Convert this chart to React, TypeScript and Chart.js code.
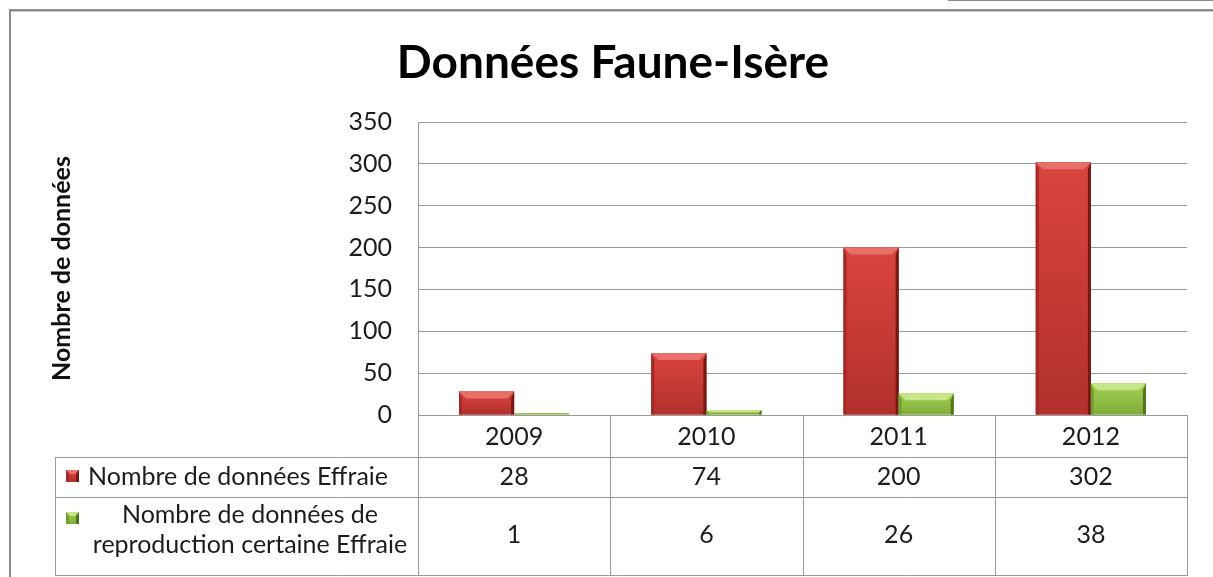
import React, { useEffect, useRef } from "react";
import { Chart, registerables } from "chart.js";

Chart.register(...registerables);

// ---- data ----
const chartTitle = "Données Faune-Isère";
const yAxisTitle = "Nombre de données";
const categories = ["2009", "2010", "2011", "2012"];
const seriesNames = [
  "Nombre de données Effraie",
  "Nombre de données de reproduction certaine Effraie",
];
const legendLines = [
  ["Nombre de données Effraie"],
  ["Nombre de données de", "reproduction certaine Effraie"],
];
const effraie = [28, 74, 200, 302];
const reproduction = [1, 6, 26, 38];
const yMin = 0;
const yMax = 350;
const yStep = 50;

// ---- styles ----
const FONT = "Lato, 'Open Sans', sans-serif";
const TEXT = "#1c1c1c";
const GRID = "#9a9a9a";
const PALETTES = [
  { faceTop: "#d9443f", faceBottom: "#b2302c", top: "#e8706a", left: "#a32926", right: "#741816", solid: "#c93a36" },
  { faceTop: "#a2d053", faceBottom: "#80ad39", top: "#c6e689", left: "#74a02f", right: "#53741e", solid: "#93c24a" },
];

function drawBevelRect(ctx: CanvasRenderingContext2D, l: number, t: number, w: number, h: number, pal: any, bevelMax: number) {
  const r = l + w;
  const b = t + h;
  const g = ctx.createLinearGradient(0, t, 0, b);
  g.addColorStop(0, pal.faceTop);
  g.addColorStop(1, pal.faceBottom);
  ctx.fillStyle = g;
  ctx.fillRect(l, t, w, h);
  if (h < 2) return;
  const bv = Math.min(bevelMax, h / 2, w / 2);
  const side = Math.min(3, bv);
  ctx.beginPath();
  ctx.moveTo(l, t);
  ctx.lineTo(r, t);
  ctx.lineTo(r - bv, t + bv);
  ctx.lineTo(l + bv, t + bv);
  ctx.closePath();
  ctx.fillStyle = pal.top;
  ctx.fill();
  ctx.beginPath();
  ctx.moveTo(l, t);
  ctx.lineTo(l + side, t + bv);
  ctx.lineTo(l + side, b);
  ctx.lineTo(l, b);
  ctx.closePath();
  ctx.fillStyle = pal.left;
  ctx.fill();
  ctx.beginPath();
  ctx.moveTo(r, t);
  ctx.lineTo(r - side, t + bv);
  ctx.lineTo(r - side, b);
  ctx.lineTo(r, b);
  ctx.closePath();
  ctx.fillStyle = pal.right;
  ctx.fill();
}

const framePlugin = {
  id: "frame",
  beforeDraw(chart: any) {
    const ctx: CanvasRenderingContext2D = chart.ctx;
    const W = chart.width;
    const H = chart.height;
    ctx.save();
    ctx.fillStyle = "#ffffff";
    ctx.fillRect(0, 0, W, H);
    ctx.fillStyle = "#8a8a8a";
    ctx.fillRect(948, 0, W - 948, 1);
    ctx.fillStyle = "#8c8c8c";
    ctx.fillRect(9, 9, W - 9, 2);
    ctx.fillStyle = "#c4c4c4";
    ctx.fillRect(11, 11, W - 11, 1);
    ctx.fillStyle = "#8c8c8c";
    ctx.fillRect(9, 9, 2, H - 9);
    ctx.fillStyle = "#000";
    ctx.font = `bold 46px ${FONT}`;
    ctx.textAlign = "center";
    ctx.textBaseline = "alphabetic";
    ctx.fillText(chartTitle, 613, 78);
    ctx.translate(70, (chart.chartArea.top + chart.chartArea.bottom) / 2);
    ctx.rotate(-Math.PI / 2);
    ctx.font = `bold 25px ${FONT}`;
    ctx.fillStyle = "#111";
    ctx.fillText(yAxisTitle, 0, 0);
    ctx.restore();
  },
};

const bevelPlugin = {
  id: "bevel",
  afterDatasetsDraw(chart: any) {
    const ctx: CanvasRenderingContext2D = chart.ctx;
    ctx.save();
    chart.data.datasets.forEach((_ds: any, di: number) => {
      const meta = chart.getDatasetMeta(di);
      const pal = PALETTES[di];
      meta.data.forEach((el: any) => {
        const { x, y, base, width } = el.getProps(["x", "y", "base", "width"], true);
        const l = x - width / 2;
        const t = Math.min(y, base);
        const h = Math.max(Math.abs(base - y), 1.5);
        drawBevelRect(ctx, l, Math.min(t, base - h), width, h, pal, 7);
      });
    });
    ctx.restore();
  },
};

const tablePlugin = {
  id: "datatable",
  afterDraw(chart: any) {
    const ctx: CanvasRenderingContext2D = chart.ctx;
    const ca = chart.chartArea;
    const xs = chart.scales.x;
    const n = categories.length;
    const bounds: number[] = [];
    for (let i = 0; i <= n; i++) {
      if (i === 0) bounds.push(ca.left);
      else if (i === n) bounds.push(ca.right);
      else bounds.push((xs.getPixelForValue(i - 1) + xs.getPixelForValue(i)) / 2);
    }
    const tableLeft = 55;
    const rowTops = [ca.bottom, 457, 497, 575];
    const series = [effraie, reproduction];

    ctx.save();
    ctx.strokeStyle = GRID;
    ctx.lineWidth = 1;
    ctx.beginPath();
    bounds.forEach((bx) => {
      const px = Math.round(bx) + 0.5;
      ctx.moveTo(px, ca.bottom);
      ctx.lineTo(px, rowTops[3]);
    });
    ctx.moveTo(tableLeft + 0.5, rowTops[1]);
    ctx.lineTo(tableLeft + 0.5, rowTops[3]);
    for (let r = 1; r <= 3; r++) {
      const py = Math.round(rowTops[r]) + 0.5;
      ctx.moveTo(tableLeft, py);
      ctx.lineTo(ca.right + 1, py);
    }
    ctx.stroke();

    ctx.fillStyle = TEXT;
    ctx.font = `25px ${FONT}`;
    ctx.textAlign = "center";
    ctx.textBaseline = "alphabetic";
    const baselines = [445, 485, 543];
    categories.forEach((c, i) => {
      const cx = xs.getPixelForValue(i);
      ctx.fillText(c, cx, baselines[0]);
      series.forEach((s, si) => {
        ctx.fillText(String(s[i]), cx, baselines[si + 1]);
      });
    });

    const markerY = [470, 512];
    PALETTES.forEach((pal, si) => {
      drawBevelRect(ctx, 66, markerY[si], 13, 12, pal, 4);
    });
    ctx.fillStyle = TEXT;
    ctx.textAlign = "left";
    ctx.fillText(legendLines[0][0], 88, 485);
    ctx.textAlign = "center";
    ctx.fillText(legendLines[1][0], 250, 523);
    ctx.fillText(legendLines[1][1], 250, 553);
    ctx.restore();
  },
};

export default function App() {
  const ref = useRef<HTMLCanvasElement>(null);
  useEffect(() => {
    document.body.style.margin = "0";
    const canvas = ref.current!;
    const chart = new Chart(canvas, {
      type: "bar",
      data: {
        labels: categories,
        datasets: [
          { label: seriesNames[0], data: effraie, backgroundColor: PALETTES[0].solid, borderWidth: 0, categoryPercentage: 0.573, barPercentage: 1 },
          { label: seriesNames[1], data: reproduction, backgroundColor: PALETTES[1].solid, borderWidth: 0, categoryPercentage: 0.573, barPercentage: 1 },
        ],
      },
      options: {
        responsive: false,
        animation: false,
        devicePixelRatio: 1,
        layout: { padding: { top: 122, bottom: 162, left: 0, right: 26 } },
        plugins: {
          legend: { display: false },
          title: { display: false },
          tooltip: { enabled: false },
        },
        scales: {
          x: { display: false },
          y: {
            min: yMin,
            max: yMax,
            ticks: { stepSize: yStep, padding: 26, color: TEXT, font: { family: FONT, size: 25 } },
            grid: { color: GRID, lineWidth: 1, drawTicks: false },
            border: { display: true, color: GRID, width: 1 },
            afterFit: (s: any) => {
              s.width = 418;
            },
          },
        },
      } as any,
      plugins: [framePlugin, bevelPlugin, tablePlugin],
    });
    return () => chart.destroy();
  }, []);
  return <canvas ref={ref} width={1213} height={577} style={{ display: "block" }} />;
}
